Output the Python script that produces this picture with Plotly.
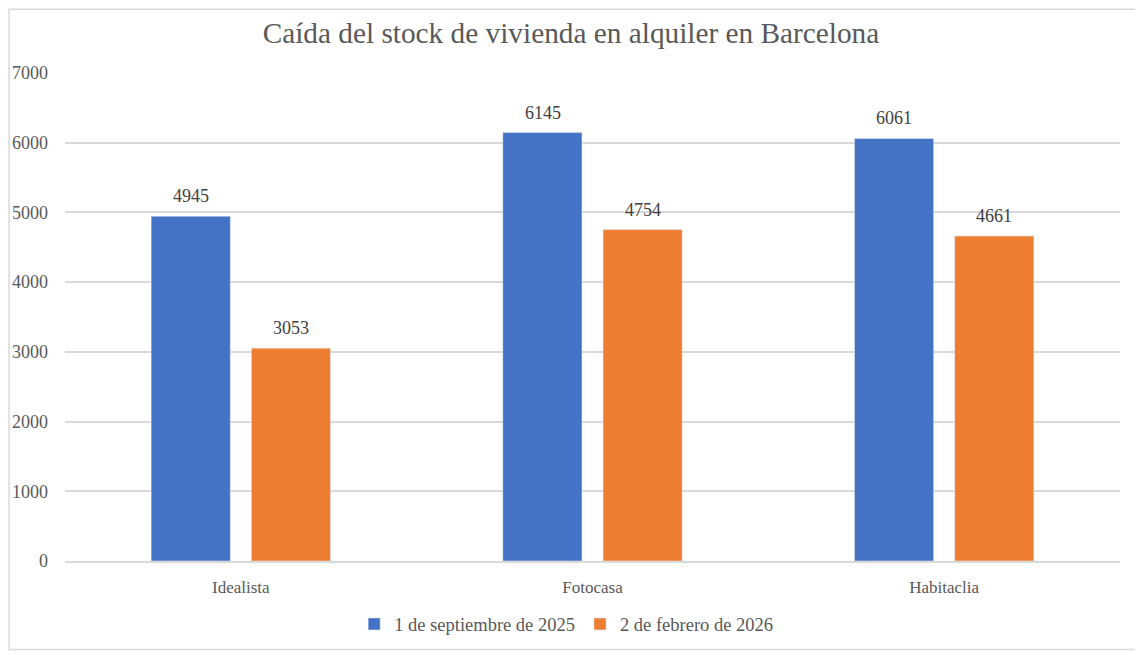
import plotly.graph_objects as go

# chart data
portales = ["Idealista", "Fotocasa", "Habitaclia"]
sep_2025 = [4945, 6145, 6061]
feb_2026 = [3053, 4754, 4661]
serie_1 = "1 de septiembre de 2025"
serie_2 = "2 de febrero de 2026"

FONT = "Liberation Serif"
GREY = "#595959"

fig = go.Figure()
fig.add_trace(go.Bar(x=portales, y=sep_2025, name=serie_1, marker_color="#4472c4"))
fig.add_trace(go.Bar(x=portales, y=feb_2026, name=serie_2, marker_color="#ed7d31"))

# value labels above the bars (bars sit 50px either side of the category centre)
for vals, dx in ((sep_2025, -50), (feb_2026, 50)):
    for cat, v in zip(portales, vals):
        fig.add_annotation(x=cat, y=v, text=str(v), showarrow=False,
                           xshift=dx, yshift=8, yanchor="bottom",
                           font=dict(family=FONT, size=18, color="#404040"))

# page has an 8px body margin, sizes are trimmed to keep the plot in place
fig.update_layout(
    width=1135, height=647,
    margin=dict(l=57, r=23, t=65, b=92),
    paper_bgcolor="white", plot_bgcolor="white",
    font=dict(family=FONT, size=17, color=GREY),
    title=dict(text="Caída del stock de vivienda en alquiler en Barcelona",
               x=0.496, xanchor="center", y=0.961, yanchor="middle",
               font=dict(family=FONT, size=29.3, color=GREY)),
    barmode="group", bargap=0.43, bargroupgap=0.21,
    legend=dict(orientation="h", x=0.475, xanchor="center", y=-0.13, yanchor="middle",
                font=dict(family=FONT, size=18.5, color=GREY),
                traceorder="normal"),
    showlegend=True,
)
fig.update_yaxes(range=[0, 7000], dtick=1000, showgrid=True, gridcolor="#d9d9d9",
                 gridwidth=1.5, zeroline=False, showline=False, ticks="",
                 automargin=False,
                 ticklabelstandoff=16, tickfont=dict(family=FONT, size=18, color=GREY))
fig.update_xaxes(showline=True, linecolor="#d9d9d9", linewidth=1.5, ticks="",
                 automargin=False,
                 ticklabelstandoff=10, tickfont=dict(family=FONT, size=17, color=GREY))

# light frame around the whole chart
fig.add_shape(type="rect", xref="paper", yref="paper",
              x0=-0.053, x1=1.019, y0=-0.1816, y1=1.1306,
              line=dict(color="#d9d9d9", width=1.5), layer="below")

fig.write_html("out.html")
